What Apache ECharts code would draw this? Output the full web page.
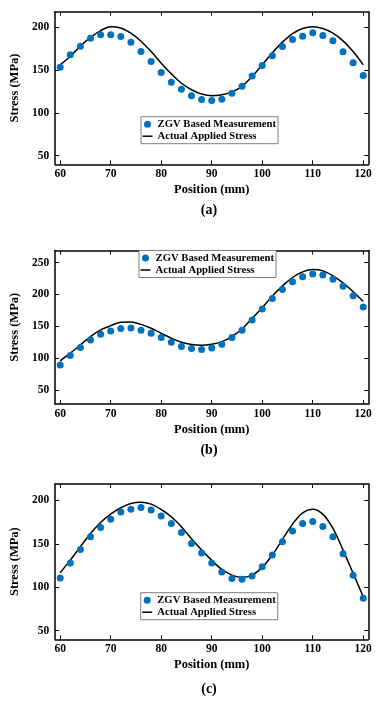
<!DOCTYPE html>
<html>
<head>
<meta charset="utf-8">
<script src="https://cdn.jsdelivr.net/npm/echarts@6/dist/echarts.min.js"></script>
<style>html,body{margin:0;padding:0;background:#fff;}#c{width:381px;height:701px;}</style>
</head>
<body>
<div id="c"></div>
<script>
// ---- data ----
const positions = [60,62,64,66,68,70,72,74,76,78,80,82,84,86,88,90,92,94,96,98,100,102,104,106,108,110,112,114,116,118,120];
const xTickValues = [60,70,80,90,100,110,120];

const measuredA = [153.3,167.7,177.8,187.1,191,191,189.1,182.5,171.6,159.9,147,135.7,127.5,120.1,115.5,114.3,115.9,122.9,131,143.1,155.2,166.5,177.4,185.6,189.5,193.4,190.3,184.1,171.2,158.4,143.5];
const appliedA  = [156,166,178,188,196,200.5,199,193,183.5,171.5,158,145.5,134.5,127,122,120,121,124.5,131,142.5,156,170,182.5,192.5,198.5,200.5,198.5,193,184,171.5,156];

const measuredB = [89.1,104.2,116.7,128.6,137.5,142.7,146.4,147.4,143.8,139.1,132.3,125,118.2,115.1,113.5,116.1,121.9,132.3,143.8,159.9,177.1,193.8,207.8,219.8,227.6,232.3,230.7,224,213,197.9,180.2];
const appliedB  = [95.8,107.8,120.8,133.9,144.3,151,156.3,156.8,153,146.9,139,131.3,125,121.4,120.3,121.9,126,133.9,145.8,162.5,179.2,197.4,213.5,226.6,235.4,239,237,229.2,218.2,204.2,189];

const measuredC = [110.6,127.9,143.6,158.2,168.9,178.5,186.6,190,191.9,188.9,182,173.5,163.2,150.5,139.4,127.9,117.5,110.2,109.1,112.9,123.7,137.1,152.4,164.7,173.5,175.8,170.1,158.2,138.6,113.7,87.2];
const appliedC  = [116.8,131.3,146.7,162,174.7,184.3,191.6,196.5,198,195.8,189.6,181.2,169.7,156,143,131,120.5,114,111.4,114,122.9,137.1,155.1,172.8,185.8,190,184.3,167.8,142.8,116,89.1];

const yTicksA = [50,100,150,200];
const yTicksB = [50,100,150,200,250];
const yTicksC = [50,100,150,200];

const panelLabels = ['(a)','(b)','(c)'];
const seriesNames = ['ZGV Based Measurement','Actual Applied Stress'];
const xTitle = 'Position (mm)';
const yTitle = 'Stress (MPa)';

// ---- layout ----
const FONT = '"Liberation Serif", "Times New Roman", serif';
const panels = [
  {top:11.7, height:152.6, ymin:40, ymax:218, yticks:yTicksA, meas:measuredA, app:appliedA, legend:{left:141, top:116.7}, labelY:210},
  {top:250.5, height:153.5, ymin:28, ymax:269, yticks:yTicksB, meas:measuredB, app:appliedB, legend:{left:139, top:250.5}, labelY:450},
  {top:484, height:155.3, ymin:40, ymax:219, yticks:yTicksC, meas:measuredC, app:appliedC, legend:{left:140.7, top:592.7}, labelY:689}
];

const grid=[], xAxis=[], yAxis=[], series=[], legend=[], graphic=[];
const tickStyle = {show:true, inside:true, length:4, lineStyle:{color:'#000', width:1}};
const lineStyleAxis = {show:true, lineStyle:{color:'#000', width:1.5}};
const labelFont = {color:'#000', fontFamily:FONT, fontWeight:'bold', fontSize:11.5};

panels.forEach((p,i)=>{
  grid.push({left:50.7, right:12.7, top:p.top, height:p.height, containLabel:false});
  xAxis.push({type:'value', gridIndex:i, position:'bottom', min:59, max:121,
    axisLine:lineStyleAxis, splitLine:{show:false},
    axisTick:Object.assign({customValues:xTickValues}, tickStyle),
    axisLabel:Object.assign({customValues:xTickValues, margin:4}, labelFont),
    name:xTitle, nameLocation:'middle', nameGap:19,
    nameTextStyle:{color:'#000', fontFamily:FONT, fontWeight:'bold', fontSize:12.5}});
  xAxis.push({type:'value', gridIndex:i, position:'top', min:59, max:121,
    axisLine:lineStyleAxis, splitLine:{show:false},
    axisTick:Object.assign({customValues:xTickValues}, tickStyle),
    axisLabel:{show:false}});
  yAxis.push({type:'value', gridIndex:i, position:'left', min:p.ymin, max:p.ymax,
    axisLine:lineStyleAxis, splitLine:{show:false},
    axisTick:Object.assign({customValues:p.yticks}, tickStyle),
    axisLabel:Object.assign({customValues:p.yticks, margin:6}, labelFont),
    name:yTitle, nameLocation:'middle', nameGap:23,
    nameTextStyle:{color:'#000', fontFamily:FONT, fontWeight:'bold', fontSize:12.5}});
  yAxis.push({type:'value', gridIndex:i, position:'right', min:p.ymin, max:p.ymax,
    axisLine:lineStyleAxis, splitLine:{show:false},
    axisTick:Object.assign({customValues:p.yticks}, tickStyle),
    axisLabel:{show:false}});
  series.push({name:seriesNames[0], type:'scatter', xAxisIndex:2*i, yAxisIndex:2*i,
    symbol:'circle', symbolSize:7, itemStyle:{color:'#0072BD', opacity:1},
    data:positions.map((x,k)=>[x,p.meas[k]]), z:3});
  series.push({name:seriesNames[1], type:'line', xAxisIndex:2*i, yAxisIndex:2*i,
    symbol:'none', smooth:0.35, lineStyle:{color:'#000', width:1.5}, itemStyle:{color:'#000'},
    data:positions.map((x,k)=>[x,p.app[k]]), z:2});
  legend.push({left:p.legend.left, top:p.legend.top, orient:'vertical',
    itemWidth:10, itemHeight:7, itemGap:1, padding:[2,2,2,1.5],
    borderColor:'#808080', borderWidth:1, backgroundColor:'#fff',
    selectedMode:false,
    textStyle:{color:'#000', fontFamily:FONT, fontWeight:'bold', fontSize:10.7},
    data:[{name:seriesNames[0], icon:'circle', itemStyle:{color:'#0072BD'}},
          {name:seriesNames[1], icon:'path://M0,0L20,0L20,3L0,3Z', itemStyle:{color:'#000'}}]});
  graphic.push({type:'text', x:209, y:p.labelY,
    style:{text:panelLabels[i], textAlign:'center', textVerticalAlign:'middle',
      font:'bold 14px ' + FONT, fill:'#000'}});
});

const chart = echarts.init(document.getElementById('c'), null, {renderer:'canvas'});
chart.setOption({animation:false, backgroundColor:'#fff', grid, xAxis, yAxis, series, legend, graphic});
</script>
</body>
</html>
